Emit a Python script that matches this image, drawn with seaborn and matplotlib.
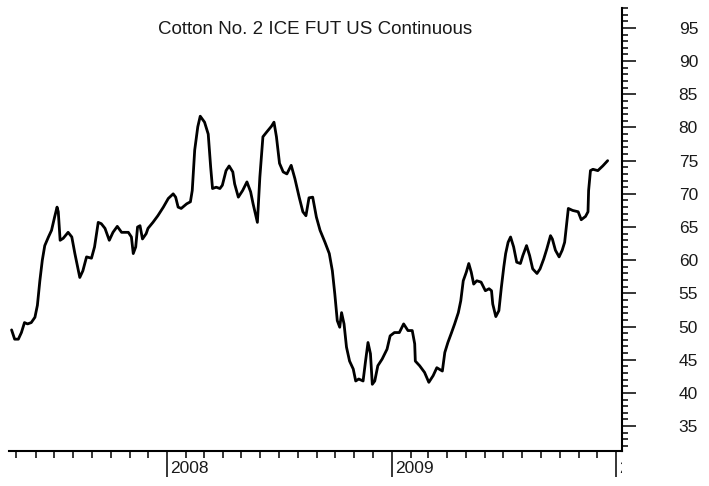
import pandas as pd
import numpy as np
import matplotlib
matplotlib.use("Agg")
import matplotlib.pyplot as plt
import matplotlib.dates as mdates
from matplotlib.ticker import MultipleLocator, NullFormatter
from matplotlib.transforms import Bbox, TransformedBbox
import seaborn as sns

# ── Data (weekly-ish closes) ──────────────────────────────────
dates = [
    "2007-04-23", "2007-04-28", "2007-05-04", "2007-05-09", "2007-05-14", "2007-05-19",
    "2007-05-25", "2007-05-31", "2007-06-04", "2007-06-08", "2007-06-12", "2007-06-16",
    "2007-06-22", "2007-06-27", "2007-07-02", "2007-07-06", "2007-07-08", "2007-07-11",
    "2007-07-16", "2007-07-24", "2007-07-30", "2007-08-04", "2007-08-12", "2007-08-17",
    "2007-08-23", "2007-08-31", "2007-09-05", "2007-09-11", "2007-09-16", "2007-09-22",
    "2007-09-29", "2007-10-05", "2007-10-12", "2007-10-19", "2007-10-30", "2007-11-04",
    "2007-11-07", "2007-11-11", "2007-11-14", "2007-11-18", "2007-11-22", "2007-11-28",
    "2007-12-01", "2007-12-09", "2007-12-17", "2007-12-26", "2008-01-03", "2008-01-11",
    "2008-01-15", "2008-01-19", "2008-01-24", "2008-02-02", "2008-02-08", "2008-02-11",
    "2008-02-15", "2008-02-20", "2008-02-24", "2008-03-02", "2008-03-08", "2008-03-12",
    "2008-03-15", "2008-03-21", "2008-03-27", "2008-03-31", "2008-04-06", "2008-04-11",
    "2008-04-17", "2008-04-20", "2008-04-26", "2008-05-03", "2008-05-10", "2008-05-16",
    "2008-05-20", "2008-05-27", "2008-05-31", "2008-06-05", "2008-06-11", "2008-06-19",
    "2008-06-23", "2008-06-27", "2008-07-02", "2008-07-08", "2008-07-14", "2008-07-21",
    "2008-07-27", "2008-08-03", "2008-08-09", "2008-08-14", "2008-08-19", "2008-08-25",
    "2008-08-31", "2008-09-06", "2008-09-14", "2008-09-21", "2008-09-26", "2008-09-30",
    "2008-10-04", "2008-10-08", "2008-10-11", "2008-10-15", "2008-10-19", "2008-10-24",
    "2008-10-30", "2008-11-03", "2008-11-08", "2008-11-15", "2008-11-19", "2008-11-23",
    "2008-11-27", "2008-11-30", "2008-12-04", "2008-12-09", "2008-12-16", "2008-12-24",
    "2008-12-29", "2009-01-05", "2009-01-13", "2009-01-20", "2009-01-27", "2009-02-03",
    "2009-02-07", "2009-02-08", "2009-02-15", "2009-02-23", "2009-03-02", "2009-03-09",
    "2009-03-15", "2009-03-24", "2009-03-28", "2009-04-02", "2009-04-08", "2009-04-13",
    "2009-04-19", "2009-04-23", "2009-04-27", "2009-05-02", "2009-05-06", "2009-05-10",
    "2009-05-14", "2009-05-19", "2009-05-26", "2009-06-02", "2009-06-08", "2009-06-12",
    "2009-06-14", "2009-06-19", "2009-06-24", "2009-06-28", "2009-07-02", "2009-07-05",
    "2009-07-09", "2009-07-13", "2009-07-18", "2009-07-23", "2009-07-29", "2009-08-02",
    "2009-08-08", "2009-08-13", "2009-08-18", "2009-08-25", "2009-08-30", "2009-09-05",
    "2009-09-10", "2009-09-16", "2009-09-19", "2009-09-24", "2009-09-30", "2009-10-05",
    "2009-10-09", "2009-10-12", "2009-10-15", "2009-10-22", "2009-10-31", "2009-11-05",
    "2009-11-12", "2009-11-16", "2009-11-17", "2009-11-20", "2009-11-24", "2009-12-02",
    "2009-12-10", "2009-12-18",
]
prices = [
    49.5, 48.1, 48.1, 49.1, 50.6, 50.4, 50.6, 51.4, 53.2, 56.9, 60.0, 62.2,
    63.5, 64.5, 66.5, 68.0, 67.3, 63.0, 63.3, 64.2, 63.5, 61.0, 57.4, 58.4,
    60.5, 60.3, 62.0, 65.7, 65.5, 64.8, 63.0, 64.2, 65.1, 64.2, 64.2, 63.5,
    61.0, 62.0, 65.0, 65.2, 63.2, 64.0, 64.8, 65.7, 66.7, 68.0, 69.3, 70.0,
    69.5, 68.0, 67.8, 68.5, 68.8, 70.5, 76.6, 80.1, 81.7, 80.8, 79.0, 74.0,
    70.8, 71.0, 70.8, 71.3, 73.5, 74.2, 73.3, 71.5, 69.5, 70.5, 71.8, 70.3,
    68.5, 65.7, 72.5, 78.6, 79.3, 80.2, 80.8, 78.6, 74.6, 73.3, 73.0, 74.3,
    72.3, 69.5, 67.3, 66.7, 69.4, 69.5, 66.5, 64.5, 62.7, 61.0, 58.4, 54.9,
    50.9, 49.9, 52.1, 50.4, 46.9, 44.8, 43.6, 41.8, 42.1, 41.8, 44.8, 47.6,
    45.9, 41.3, 41.8, 44.1, 45.1, 46.6, 48.6, 49.1, 49.1, 50.4, 49.4, 49.4,
    47.4, 44.8, 44.1, 43.1, 41.6, 42.6, 43.8, 43.3, 46.1, 47.6, 49.1, 50.4,
    52.1, 53.9, 56.9, 58.2, 59.5, 58.2, 56.4, 56.9, 56.7, 55.4, 55.7, 55.4,
    53.4, 51.5, 52.4, 55.9, 59.0, 61.0, 62.7, 63.5, 62.0, 59.7, 59.5, 60.7,
    62.2, 60.7, 58.7, 58.0, 58.7, 60.2, 61.7, 63.7, 63.2, 61.5, 60.5, 61.5,
    62.7, 65.2, 67.8, 67.5, 67.3, 66.1, 66.6, 67.3, 70.5, 73.5, 73.7, 73.5,
    74.2, 75.0,
]
years = [2008, 2009, 2010]
x_range = ["2007-04-18", "2010-01-10"]
y_range = [31.25, 98.0]
title = "Cotton No. 2 ICE FUT US Continuous"

df = pd.DataFrame({"date": pd.to_datetime(dates), "price": prices})

# ── Style ─────────────────────────────────────────────────────
sns.set_style("white")
plt.rcParams["font.family"] = ["Liberation Sans", "DejaVu Sans"]
TXT = "#1a1a1a"

fig = plt.figure(figsize=(7.09, 4.86), dpi=100)
ax = fig.add_axes([0.012, 0.072, 0.865, 0.9115])

sns.lineplot(data=df, x="date", y="price", ax=ax, color="black",
             linewidth=2.0, estimator=None, sort=False)

ax.set_xlim(pd.Timestamp(x_range[0]), pd.Timestamp(x_range[1]))
ax.set_ylim(*y_range)
ax.set_xlabel("")
ax.set_ylabel("")

for side in ["top", "left"]:
    ax.spines[side].set_visible(False)
for side in ["bottom", "right"]:
    ax.spines[side].set_linewidth(1.5)
    ax.spines[side].set_color("black")

# y axis on the right, 1-unit minor / 5-unit major ticks
ax.yaxis.tick_right()
ax.set_yticks([v for v in range(35, 100, 5)])
ax.yaxis.set_minor_locator(MultipleLocator(1))
ax.tick_params(axis="y", which="both", right=True, left=False)
ax.tick_params(axis="y", which="major", direction="out", length=10, width=1.1,
               pad=31, labelsize=12.5, colors="black", labelcolor=TXT)
ax.tick_params(axis="y", which="minor", direction="out", length=4.5, width=1.1,
               colors="black")

# x axis: monthly ticks, long year ticks with labels to the right
year_starts = [pd.Timestamp(f"{y}-01-01") for y in years]
ax.xaxis.set_minor_locator(mdates.MonthLocator())
ax.xaxis.set_minor_formatter(NullFormatter())
ax.set_xticks(year_starts)
ax.set_xticklabels([])
ax.tick_params(axis="x", which="both", bottom=True, top=False)
ax.tick_params(axis="x", which="minor", direction="out", length=5, width=1.1,
               colors="black")
ax.tick_params(axis="x", which="major", direction="out", length=19, width=1.1,
               colors="black")

clip = TransformedBbox(Bbox([[0, 0], [0.877, 1]]), fig.transFigure)
for y, ys in zip(years, year_starts):
    t = ax.annotate(str(y), xy=(mdates.date2num(ys), 0),
                    xycoords=ax.get_xaxis_transform(),
                    xytext=(2, -12.5), textcoords="offset points",
                    ha="left", va="center", fontsize=12.5, color=TXT,
                    annotation_clip=False)
    t.set_clip_on(True)
    t.set_clip_box(clip)

ax.text(0.5, 0.952, title, transform=ax.transAxes, ha="center", va="center",
        fontsize=13.5, color=TXT)

ax.grid(False)
fig.savefig("out.png", dpi=100)
